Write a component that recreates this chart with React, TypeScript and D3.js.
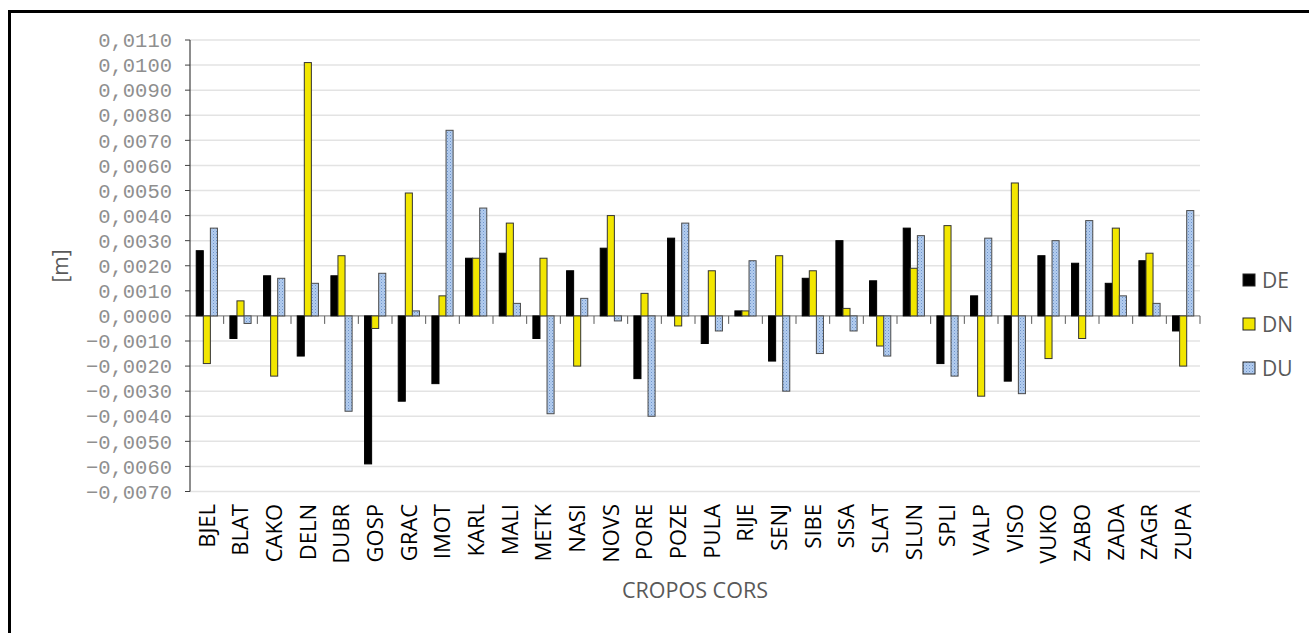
import React from 'react';
import * as d3 from 'd3';

const stations = ['BJEL', 'BLAT', 'CAKO', 'DELN', 'DUBR', 'GOSP', 'GRAC', 'IMOT', 'KARL', 'MALI',
  'METK', 'NASI', 'NOVS', 'PORE', 'POZE', 'PULA', 'RIJE', 'SENJ', 'SIBE', 'SISA', 'SLAT',
  'SLUN', 'SPLI', 'VALP', 'VISO', 'VUKO', 'ZABO', 'ZADA', 'ZAGR', 'ZUPA'];

const dE = [0.0026, -0.0009, 0.0016, -0.0016, 0.0016, -0.0059, -0.0034, -0.0027, 0.0023, 0.0025,
  -0.0009, 0.0018, 0.0027, -0.0025, 0.0031, -0.0011, 0.0002, -0.0018, 0.0015, 0.0030, 0.0014,
  0.0035, -0.0019, 0.0008, -0.0026, 0.0024, 0.0021, 0.0013, 0.0022, -0.0006];
const dN = [-0.0019, 0.0006, -0.0024, 0.0101, 0.0024, -0.0005, 0.0049, 0.0008, 0.0023, 0.0037,
  0.0023, -0.0020, 0.0040, 0.0009, -0.0004, 0.0018, 0.0002, 0.0024, 0.0018, 0.0003, -0.0012,
  0.0019, 0.0036, -0.0032, 0.0053, -0.0017, -0.0009, 0.0035, 0.0025, -0.0020];
const dU = [0.0035, -0.0003, 0.0015, 0.0013, -0.0038, 0.0017, 0.0002, 0.0074, 0.0043, 0.0005,
  -0.0039, 0.0007, -0.0002, -0.0040, 0.0037, -0.0006, 0.0022, -0.0030, -0.0015, -0.0006, -0.0016,
  0.0032, -0.0024, 0.0031, -0.0031, 0.0030, 0.0038, 0.0008, 0.0005, 0.0042];

const seriesNames = ['DE', 'DN', 'DU'];
const yTicks = d3.range(-7, 12).map(d => d / 1000);

const fills = { DE: '#000000', DN: '#f2e600', DU: 'url(#duPattern)' };
const strokes = { DE: '#000000', DN: '#333333', DU: '#4a4a4a' };

const fmt = (v: number) => {
  const s = Math.abs(v).toFixed(4).replace('.', ',');
  return (v < 0 ? '\u2212' : '') + s;
};

const App = () => {
  const width = 1309, height = 633;
  const left = 190, right = 1200, top = 40, bottom = 491.5;

  const x = d3.scaleBand().domain(stations).range([left, right]).paddingInner(0).paddingOuter(0);
  const y = d3.scaleLinear().domain([-0.007, 0.011]).range([bottom, top]);
  const groupW = x.bandwidth() * 0.63;
  const inner = d3.scaleBand().domain(seriesNames).range([0, groupW]);
  const off = (x.bandwidth() - groupW) / 2;
  const series = { DE: dE, DN: dN, DU: dU };
  const y0 = y(0);

  return (
    <svg width={width} height={height} style={{ position: 'absolute', left: 0, top: 0, background: '#fff' }}>
      <defs>
        <pattern id="duPattern" width="3" height="3" patternUnits="userSpaceOnUse">
          <rect width="3" height="3" fill="#b3cdef" />
          <rect x="0" y="0" width="1" height="1" fill="#6f94cc" />
          <rect x="1.5" y="1.5" width="1" height="1" fill="#8fb0dc" />
        </pattern>
      </defs>
      <path d={`M9.5,${height} V11.5 H${width}`} fill="none" stroke="#000" strokeWidth={3} />

      {yTicks.map(t => (
        <g key={t}>
          <line x1={left} x2={right} y1={y(t)} y2={y(t)} stroke={t === 0 ? '#8c8c8c' : '#e3e3e3'} strokeWidth={t === 0 ? 1.2 : 1.5} />
          <line x1={left - 5} x2={left} y1={y(t)} y2={y(t)} stroke="#404040" strokeWidth={1} />
          <text x={172} y={y(t)} dy="0.35em" textAnchor="end" fontFamily="'Liberation Mono', monospace" fontSize={20.5} fill="#8f8f8f">{fmt(t)}</text>
        </g>
      ))}
      <line x1={left} x2={left} y1={top} y2={bottom} stroke="#404040" strokeWidth={1.2} />

      {stations.map(s => (
        <line key={'t' + s} x1={x(s)! + x.bandwidth()} x2={x(s)! + x.bandwidth()} y1={y0} y2={y0 + 8} stroke="#595959" strokeWidth={1} />
      ))}

      {seriesNames.map(name => (
        <g key={name}>
          {series[name].map((v, i) => {
            const bx = x(stations[i])! + off + inner(name)!;
            return (
              <rect key={i} x={bx} width={inner.bandwidth()} y={Math.min(y(v), y0)} height={Math.abs(y(v) - y0)}
                fill={fills[name]} stroke={strokes[name]} strokeWidth={1} />
            );
          })}
        </g>
      ))}

      {stations.map(s => (
        <text key={'l' + s} transform={`translate(${x(s)! + x.bandwidth() / 2},504) rotate(-90)`} dy="0.35em"
          textAnchor="end" fontFamily="'Open Sans', sans-serif" fontSize={22} fill="#000">{s}</text>
      ))}

      <text x={695} y={590} dy="0.35em" textAnchor="middle" fontFamily="'Open Sans', sans-serif" fontSize={21.5} fill="#595959">CROPOS CORS</text>
      <text transform="translate(61,266) rotate(-90)" dy="0.35em" textAnchor="middle" fontFamily="'Open Sans', sans-serif" fontSize={21} fill="#595959">[m]</text>

      {seriesNames.map((name, i) => (
        <g key={'lg' + name} transform={`translate(1243,${280 + i * 44})`}>
          <rect x={0} y={-6} width={12} height={12} fill={fills[name]} stroke="#222" strokeWidth={1} />
          <text x={19} y={0} dy="0.36em" fontFamily="'Open Sans', sans-serif" fontSize={21} fill="#595959">{name}</text>
        </g>
      ))}
    </svg>
  );
};

export default App;
